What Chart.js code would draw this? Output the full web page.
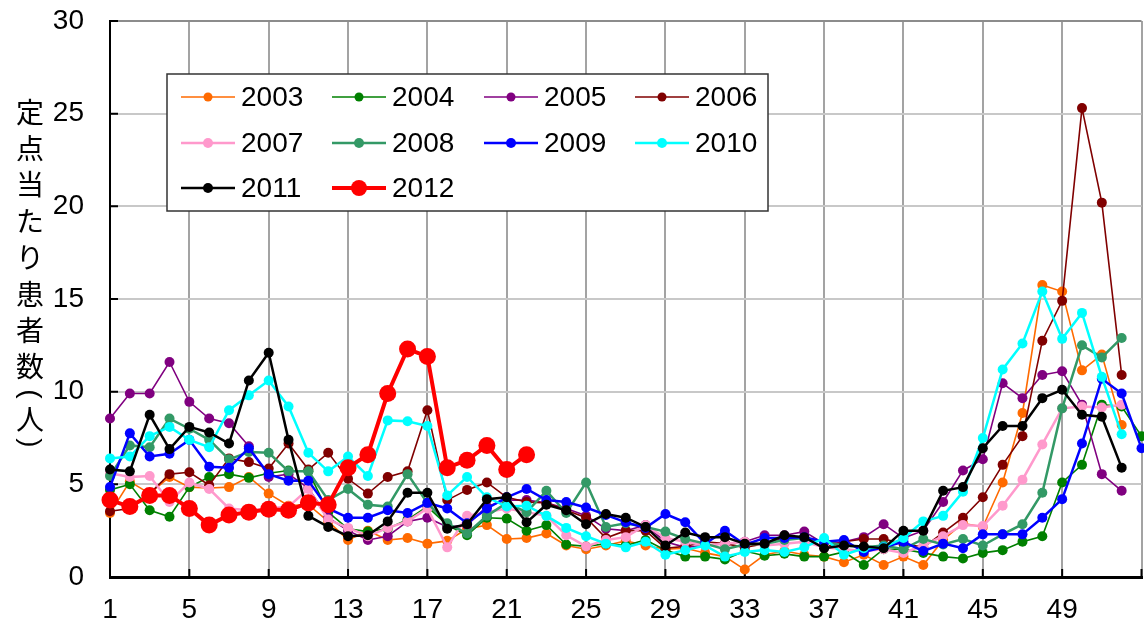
<!DOCTYPE html>
<html>
<head>
<meta charset="utf-8">
<script src="https://cdn.jsdelivr.net/npm/chart.js@4"></script>
<style>
  html, body { margin: 0; padding: 0; background: #fff; overflow: hidden; }
  #wrap { width: 1150px; height: 623px; }
</style>
</head>
<body>
<div id="wrap"><canvas id="fluChart"></canvas></div>
<script>
// week numbers on the x axis
const weeks = [1, 2, 3, 4, 5, 6, 7, 8, 9, 10, 11, 12, 13, 14, 15, 16, 17, 18, 19, 20, 21, 22, 23, 24, 25, 26, 27,
  28, 29, 30, 31, 32, 33, 34, 35, 36, 37, 38, 39, 40, 41, 42, 43, 44, 45, 46, 47, 48, 49, 50, 51, 52, 53];
const yTicks = [0, 5, 10, 15, 20, 25, 30];

const years = ['2003', '2004', '2005', '2006', '2007', '2008', '2009', '2010', '2011', '2012'];
const colors = ['#ff6a00', '#008000', '#800080', '#800000', '#ff99cc', '#339966', '#0000ff', '#00ffff', '#000000', '#ff0000'];

// patients per sentinel site, by week
const v2003 = [3.45, 5.15, 4.5, 5.4, 4.85, 4.8, 4.85, 5.4, 4.5, 3.85, 3.9, 3.0, 2.0, 2.5, 2.0, 2.1, 1.8, 1.95, 2.6, 2.8,
  2.05, 2.1, 2.35, 1.7, 1.5, 1.7, 1.95, 1.7, 1.5, 1.55, 1.3, 1.1, 0.4, 1.2, 1.4, 1.2, 1.1, 0.8, 1.2, 0.65,
  1.1, 0.65, 2.0, 2.9, 2.7, 5.1, 8.85, 15.75, 15.4, 11.15, 12.0, 8.2, null];
const v2004 = [4.7, 5.0, 3.6, 3.25, 4.85, 5.4, 5.55, 5.35, 5.6, 5.75, 5.7, 3.5, 2.6, 2.45, 2.6, 3.1, 3.8, 2.8, 2.25, 3.2,
  3.15, 2.5, 2.8, 1.75, 1.65, 1.8, 1.7, 2.0, 1.45, 1.1, 1.1, 0.95, 1.4, 1.15, 1.25, 1.1, 1.1, 1.35, 0.65, 1.5,
  1.5, 1.3, 1.1, 1.0, 1.3, 1.45, 1.9, 2.2, 5.1, 6.05, 9.3, 9.2, 7.6];
const v2005 = [8.55, 9.9, 9.9, 11.6, 9.45, 8.55, 8.3, 7.05, 5.4, 5.55, 4.8, 3.2, 2.5, 2.0, 2.2, 3.0, 3.2, 2.7, 2.8, 3.8,
  4.15, 4.15, 4.0, 3.7, 3.3, 2.6, 2.5, 2.8, 1.9, 1.6, 1.7, 1.8, 1.9, 2.25, 2.25, 2.45, 1.8, 1.9, 2.15, 2.85,
  2.1, 2.5, 4.05, 5.75, 6.35, 10.45, 9.65, 10.9, 11.1, 9.3, 5.55, 4.65, null];
const v2006 = [3.55, 3.7, 4.5, 5.55, 5.65, 4.95, 6.4, 6.2, 5.85, 7.2, 5.8, 6.7, 5.3, 4.5, 5.4, 5.7, 9.0, 4.15, 4.7, 5.1,
  4.3, 4.05, 4.0, 3.6, 3.2, 2.1, 2.5, 2.5, 1.55, 1.65, 1.9, 1.8, 1.6, 1.8, 2.1, 2.1, 1.6, 1.9, 2.05, 2.05,
  1.8, 1.6, 2.4, 3.2, 4.3, 6.05, 7.6, 12.75, 14.9, 25.3, 20.2, 10.9, null];
const v2007 = [5.6, 5.4, 5.45, 4.05, 5.1, 4.75, 3.7, 3.6, 3.7, 3.8, 4.75, 3.1, 2.65, 2.2, 2.65, 3.0, 3.7, 1.6, 3.3, 3.5,
  3.7, 3.5, 3.3, 2.25, 1.65, 2.0, 2.15, 2.8, 2.1, 1.9, 1.7, 1.8, 1.9, 1.7, 1.8, 1.9, 1.6, 1.5, 1.4, 1.5,
  1.3, 1.7, 2.2, 2.8, 2.75, 3.85, 5.25, 7.15, 9.1, 9.2, 9.15, 9.3, null];
const v2008 = [5.45, 7.1, 7.0, 8.55, 8.0, 7.4, 6.35, 6.75, 6.7, 5.7, 5.7, 4.15, 4.75, 3.9, 3.8, 5.55, 4.0, 2.9, 2.35, 3.3,
  4.0, 3.5, 4.65, 3.45, 5.1, 2.7, 2.9, 2.7, 2.45, 2.05, 1.8, 1.5, 1.75, 1.8, 2.0, 2.1, 1.9, 1.7, 1.6, 1.7,
  1.5, 2.05, 1.75, 2.05, 1.7, 2.3, 2.85, 4.55, 9.1, 12.5, 11.85, 12.9, null];
const v2009 = [4.85, 7.75, 6.5, 6.65, 7.4, 5.95, 5.9, 6.95, 5.55, 5.2, 5.2, 3.7, 3.2, 3.2, 3.6, 3.45, 4.0, 3.7, 2.9, 3.7,
  4.3, 4.75, 4.15, 4.05, 3.75, 3.35, 2.95, 2.65, 3.4, 2.95, 1.8, 2.5, 1.75, 2.1, 2.1, 2.15, 1.9, 2.0, 1.35, 1.6,
  1.9, 1.4, 1.8, 1.55, 2.3, 2.3, 2.3, 3.2, 4.2, 7.2, 10.7, 9.9, 6.95];
const v2010 = [6.4, 6.5, 7.6, 8.1, 7.4, 7.0, 9.0, 9.8, 10.6, 9.2, 6.7, 5.7, 6.5, 5.45, 8.45, 8.4, 8.15, 4.4, 5.4, 4.3,
  3.8, 3.85, 3.3, 2.65, 2.2, 1.8, 1.6, 1.9, 1.2, 1.45, 1.7, 1.1, 1.35, 1.45, 1.35, 1.6, 2.1, 1.2, 1.55, 1.6,
  2.1, 3.0, 3.3, 4.6, 7.5, 11.2, 12.6, 15.4, 12.85, 14.25, 10.8, 7.7, null];
const v2011 = [5.8, 5.7, 8.75, 6.9, 8.1, 7.8, 7.2, 10.6, 12.1, 7.4, 3.3, 2.7, 2.2, 2.25, 3.0, 4.55, 4.55, 2.6, 2.85, 4.2,
  4.3, 2.95, 3.9, 3.6, 2.85, 3.4, 3.2, 2.7, 1.7, 2.4, 2.15, 2.15, 1.8, 1.8, 2.25, 2.15, 1.55, 1.7, 1.65, 1.55,
  2.5, 2.5, 4.65, 4.85, 6.95, 8.15, 8.15, 9.65, 10.1, 8.75, 8.65, 5.9, null];
const v2012 = [4.15, 3.8, 4.4, 4.4, 3.7, 2.8, 3.35, 3.5, 3.65, 3.6, 4.0, 3.9, 5.9, 6.6, 9.9, 12.3, 11.9, 5.9, 6.3, 7.1,
  5.8, 6.6];

const seriesValues = [v2003, v2004, v2005, v2006, v2007, v2008, v2009, v2010, v2011, v2012];
const lineWidths = [1.6, 1.6, 1.6, 1.6, 2.5, 2.5, 2.5, 2.5, 2.5, 4];

const FONT = '"Liberation Sans", Arial, sans-serif';

const datasets = years.map((yr, i) => ({
  label: yr,
  data: seriesValues[i],
  borderColor: colors[i],
  backgroundColor: colors[i],
  borderWidth: lineWidths[i],
  pointRadius: i === 9 ? 8.5 : 5,
  pointBorderWidth: 0,
  pointBackgroundColor: colors[i],
  legendRadius: i === 9 ? 8 : (i < 4 ? 4.5 : 5),
  tension: 0,
  clip: false,
  order: years.length - i
}));

// legend drawn as a 4-column box over the plot
const legendBox = {
  id: 'legendBox',
  afterDraw(chart) {
    const ctx = chart.ctx;
    ctx.save();
    ctx.fillStyle = '#fff';
    ctx.fillRect(167, 74, 601, 137);
    ctx.strokeStyle = '#333';
    ctx.lineWidth = 1.5;
    ctx.strokeRect(167, 74, 601, 137);
    const colX = [181, 332, 484, 635];
    const rowY = [97, 143, 188];
    ctx.font = '28px ' + FONT;
    ctx.textBaseline = 'middle';
    chart.data.datasets.forEach((ds, i) => {
      const x = colX[i % 4];
      const y = rowY[Math.floor(i / 4)];
      ctx.strokeStyle = ds.borderColor;
      ctx.lineWidth = ds.borderWidth;
      ctx.beginPath();
      ctx.moveTo(x, y);
      ctx.lineTo(x + 54, y);
      ctx.stroke();
      ctx.fillStyle = ds.borderColor;
      ctx.beginPath();
      ctx.arc(x + 27, y, ds.legendRadius, 0, Math.PI * 2);
      ctx.fill();
      ctx.fillStyle = '#000';
      ctx.fillText(ds.label, x + 60, y + 1);
    });
    ctx.restore();
  }
};

// vertical japanese axis title
const yTitle = {
  id: 'yTitle',
  afterDraw(chart) {
    const ctx = chart.ctx;
    ctx.save();
    ctx.fillStyle = '#000';
    ctx.textAlign = 'center';
    ctx.textBaseline = 'middle';
    ctx.font = '28px "Noto Sans CJK JP", sans-serif';
    [...'定点当たり患者数'].forEach((c, i) => ctx.fillText(c, 30, 112 + i * 36.4));
    ctx.fillText('人', 30, 419);
    ctx.font = '28px ' + FONT;
    [['(', 394], [')', 443]].forEach(([c, y]) => {
      ctx.save();
      ctx.translate(30, y);
      ctx.rotate(Math.PI / 2);
      ctx.fillText(c, 0, 0);
      ctx.restore();
    });
    ctx.restore();
  }
};

// short tick marks pointing into the plot
const innerTicks = {
  id: 'innerTicks',
  beforeDatasetsDraw(chart) {
    const { ctx, chartArea, scales: { x, y } } = chart;
    ctx.save();
    ctx.strokeStyle = '#000';
    ctx.lineWidth = 2;
    ctx.beginPath();
    yTicks.forEach(v => {
      const py = y.getPixelForValue(v);
      ctx.moveTo(chartArea.left, py);
      ctx.lineTo(chartArea.left + 8, py);
    });
    weeks.forEach((w, i) => {
      if (i % 4 !== 0) return;
      const px = x.getPixelForValue(i);
      ctx.moveTo(px, chartArea.bottom);
      ctx.lineTo(px, chartArea.bottom - 8);
    });
    ctx.stroke();
    ctx.restore();
  }
};

const ctx = document.getElementById('fluChart').getContext('2d');
const fluChart = new Chart(ctx, {
  type: 'line',
  data: { labels: weeks, datasets: datasets },
  options: {
    responsive: true,
    maintainAspectRatio: false,
    devicePixelRatio: 1,
    animation: false,
    layout: { padding: { top: 21, right: 4, left: 0, bottom: 0 } },
    plugins: {
      legend: { display: false },
      tooltip: { enabled: false }
    },
    scales: {
      x: {
        type: 'category',
        grid: {
          color: c => (c.index % 4 === 0 ? '#a3a3a3' : 'transparent'),
          lineWidth: 2,
          drawTicks: false
        },
        border: { color: '#000', width: 3 },
        ticks: {
          autoSkip: false,
          maxRotation: 0,
          padding: 16,
          color: '#000',
          font: { size: 28, family: FONT },
          callback: (v, i) => (i % 4 === 0 && i < 52 ? weeks[i] : '')
        },
        afterFit: s => {
          s.height = 46;
          s.paddingLeft = 0;
          s.paddingRight = 0;
        }
      },
      y: {
        min: 0,
        max: 30,
        grid: {
          color: c => (c.tick && c.tick.value === 30 ? '#8c8c8c' : '#c8c8c8'),
          lineWidth: 2,
          drawTicks: false
        },
        border: { color: '#000', width: 2 },
        ticks: {
          stepSize: 5,
          padding: 26,
          color: '#000',
          font: { size: 28, family: FONT }
        },
        afterFit: s => {
          s.width = 110;
          s.paddingTop = 0;
          s.paddingBottom = 0;
        }
      }
    }
  },
  plugins: [innerTicks, legendBox, yTitle]
});
</script>
</body>
</html>
